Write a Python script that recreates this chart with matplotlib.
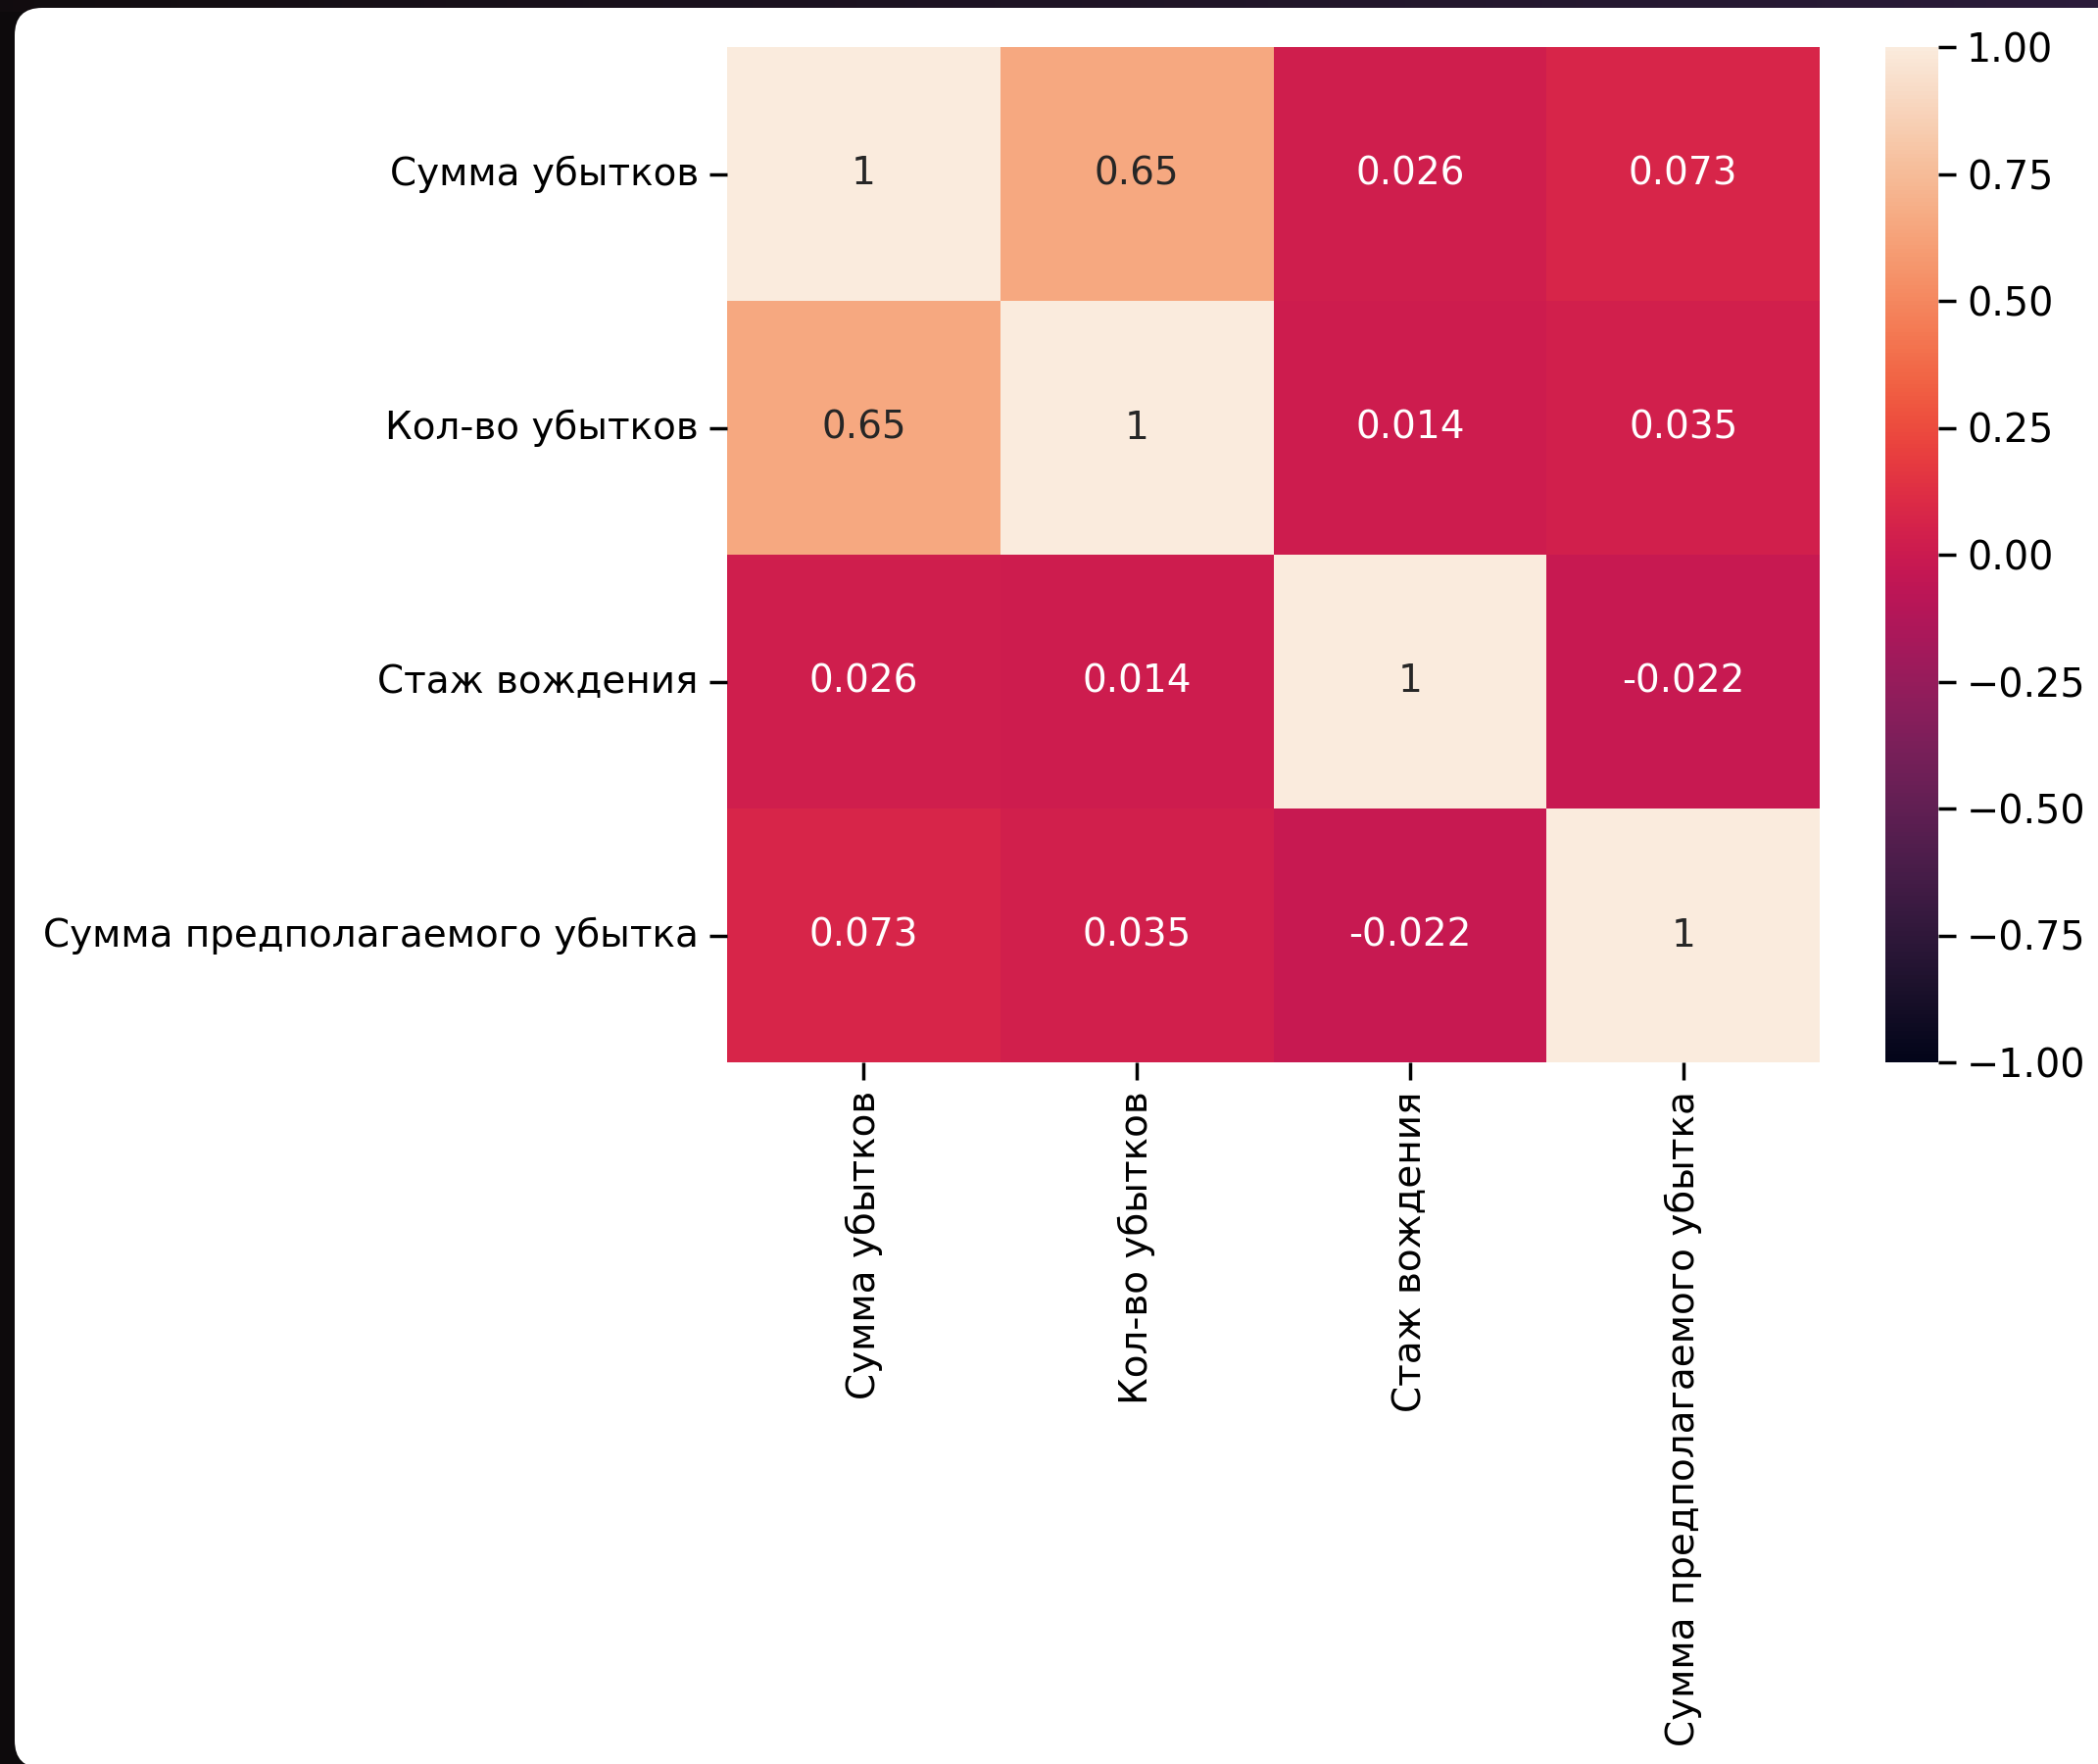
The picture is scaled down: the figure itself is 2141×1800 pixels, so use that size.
import numpy as np
import matplotlib.pyplot as plt
import seaborn as sns
from matplotlib.patches import FancyBboxPatch

labels = ['Сумма убытков', 'Кол-во убытков', 'Стаж вождения',
          'Сумма предполагаемого убытка']
corr = [[1, 0.65, 0.026, 0.073],
        [0.65, 1, 0.014, 0.035],
        [0.026, 0.014, 1, -0.022],
        [0.073, 0.035, -0.022, 1]]
cbar_ticks = [-1, -0.75, -0.5, -0.25, 0, 0.25, 0.5, 0.75, 1]

W, H = 2141, 1800
fig = plt.figure(figsize=(W / 100, H / 100), dpi=100)
fig.patch.set_facecolor('#0d0a0c')

# тёмная полоса сверху с градиентом (рамка скриншота)
grad = np.linspace(0, 1, W)
c0 = np.array([0.07, 0.05, 0.06])
c1 = np.array([0.17, 0.11, 0.23])
row = c0[None, :] * (1 - grad[:, None]) + c1[None, :] * grad[:, None]
strip = np.repeat(row[None, :, :], 12, axis=0)
fig.figimage(strip, xo=0, yo=H - 12, zorder=-20)

# белая карточка со скруглёнными углами
card = FancyBboxPatch((15, -4), W + 40 - 15, H - 8 + 4,
                      boxstyle='round,pad=0,rounding_size=28',
                      transform=None, facecolor='white', edgecolor='none',
                      zorder=-10)
fig.patches.append(card)

ax = fig.add_axes([742 / W, 1 - 1084 / H, (1857 - 742) / W, (1084 - 48) / H])
cax = fig.add_axes([1924 / W, 1 - 1084 / H, 54 / W, (1084 - 48) / H])

sns.heatmap(np.array(corr), annot=True, vmin=-1, vmax=1, ax=ax, cbar_ax=cax,
            xticklabels=labels, yticklabels=labels,
            annot_kws={'size': 28})

ax.set_yticklabels(labels, rotation=0)
ax.set_xticklabels(labels, rotation=90)
ax.tick_params(labelsize=28, length=13, width=2.5, pad=8)

cax.set_yticks(cbar_ticks)
cax.tick_params(labelsize=28.5, length=13, width=2.5, pad=8)

fig.savefig('out.png', dpi=100)
